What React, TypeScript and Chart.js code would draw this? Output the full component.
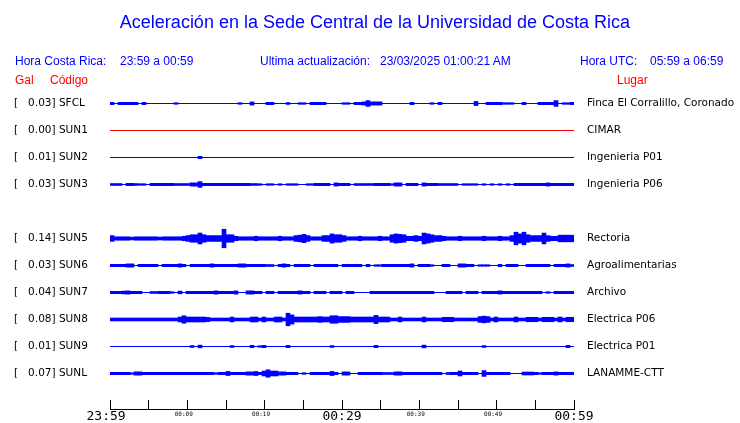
import React, { useEffect, useRef } from 'react';
import { Chart, registerables } from 'chart.js';

Chart.register(...registerables);

// ---------- data ----------
const TITLE = 'Aceleración en la Sede Central de la Universidad de Costa Rica';
const HEADER_LOCAL = ['Hora Costa Rica:', '23:59 a 00:59'];
const HEADER_UPDATE = ['Ultima actualización:', '23/03/2025 01:00:21 AM'];
const HEADER_UTC = ['Hora UTC:', '05:59 a 06:59'];
const COL_HEADERS = ['Gal', 'Código', 'Lugar'];

const CODES = ['SFCL', 'SUN1', 'SUN2', 'SUN3', 'SUN5', 'SUN6', 'SUN7', 'SUN8', 'SUN9', 'SUNL'];
const PEAK_GAL = [0.03, 0.0, 0.01, 0.03, 0.14, 0.03, 0.04, 0.08, 0.01, 0.07];
const PLACES = [
  'Finca El Corralillo, Coronado',
  'CIMAR',
  'Ingenieria P01',
  'Ingenieria P06',
  'Rectoria',
  'Agroalimentarias',
  'Archivo',
  'Electrica P06',
  'Electrica P01',
  'LANAMME-CTT',
];
// row slot of each station (slot 4 = SUN4, not shown)
const ROWS = [0, 1, 2, 3, 5, 6, 7, 8, 9, 10];
const TRACE_COLORS = ['#0000ff', '#ff0000', '#0000ff', '#0000ff', '#0000ff', '#0000ff', '#0000ff', '#0000ff', '#0000ff', '#0000ff'];

const TICK_MINUTES = [0, 5, 10, 15, 20, 25, 30, 35, 40, 45, 50, 55, 60];
const TICK_LABELS = ['23:59', '', '00:09', '', '00:19', '', '00:29', '', '00:39', '', '00:49', '', '00:59'];
const MAJOR_TICKS = [0, 6, 12];

// envelope amplitude of each trace, 116 bins over the hour
const ENV_SFCL = [
  1, 0, 1, 1, 1, 1, 1, 0, 1, 0,
  0, 0, 0, 0, 0, 0, 0.5, 0, 0, 0,
  0, 0, 0, 0, 0, 0, 0, 0, 0, 0,
  0, 0, 0.5, 0, 0, 1.5, 0, 0, 0, 1,
  1, 0, 0, 0, 0.7, 0, 0, 0.5, 0.5, 0,
  1, 1, 1, 1, 0, 0, 0, 0, 0.5, 0.5,
  0, 1, 1, 1.5, 3, 1.5, 1.5, 1.5, 0, 0,
  0, 0, 0, 0, 0, 1, 0, 0, 0, 0,
  0.5, 0, 1, 0, 0, 0, 0, 0, 0, 0,
  0, 2, 0, 0, 1, 1, 1, 1, 0.5, 0.5,
  0.5, 0, 0, 1, 0, 0, 0, 1, 1, 1,
  1, 3, 0, 0.5, 0.5, 1,
];
const ENV_SUN1 = [
  0, 0, 0, 0, 0, 0, 0, 0, 0, 0,
  0, 0, 0, 0, 0, 0, 0, 0, 0, 0,
  0, 0, 0, 0, 0, 0, 0, 0, 0, 0,
  0, 0, 0, 0, 0, 0, 0, 0, 0, 0,
  0, 0, 0, 0, 0, 0, 0, 0, 0, 0,
  0, 0, 0, 0, 0, 0, 0, 0, 0, 0,
  0, 0, 0, 0, 0, 0, 0, 0, 0, 0,
  0, 0, 0, 0, 0, 0, 0, 0, 0, 0,
  0, 0, 0, 0, 0, 0, 0, 0, 0, 0,
  0, 0, 0, 0, 0, 0, 0, 0, 0, 0,
  0, 0, 0, 0, 0, 0, 0, 0, 0, 0,
  0, 0, 0, 0, 0, 0,
];
const ENV_SUN2 = [
  0, 0, 0, 0, 0, 0, 0, 0, 0, 0,
  0, 0, 0, 0, 0, 0, 0, 0, 0, 0,
  0, 0, 1, 0, 0, 0, 0, 0, 0, 0,
  0, 0, 0, 0, 0, 0, 0, 0, 0, 0,
  0, 0, 0, 0, 0, 0, 0, 0, 0, 0,
  0, 0, 0, 0, 0, 0, 0, 0, 0, 0,
  0, 0, 0, 0, 0, 0, 0, 0, 0, 0,
  0, 0, 0, 0, 0, 0, 0, 0, 0, 0,
  0, 0, 0, 0, 0, 0, 0, 0, 0, 0,
  0, 0, 0, 0, 0, 0, 0, 0, 0, 0,
  0, 0, 0, 0, 0, 0, 0, 0, 0, 0,
  0, 0, 0, 0, 0, 0,
];
const ENV_SUN3 = [
  0.7, 0.7, 0.7, 0, 1, 1, 0.7, 0.5, 0.5, 0,
  1, 1, 1, 1, 1, 1, 0.7, 0.7, 0.7, 0.7,
  1.5, 1.5, 3, 1, 1, 1, 1, 1, 1, 1,
  1, 1, 1, 1, 1, 0.7, 0.7, 0.5, 0, 0.5,
  0.5, 0, 0.5, 0, 0.5, 0.5, 0.5, 0, 0, 0.5,
  0.5, 1, 1, 1, 1, 0, 1.5, 1, 1, 1,
  0, 0.7, 0.7, 0.7, 0.7, 0.7, 1, 1, 1, 1,
  0.5, 1.5, 1.5, 0, 1, 1, 1, 0, 1.5, 1,
  1, 1, 0.7, 0.7, 0.7, 0.7, 0.7, 0, 0.5, 0.5,
  0.5, 0.5, 0, 0.5, 0, 0.5, 0, 0.5, 0, 0.5,
  0, 1, 1, 1, 1, 1, 1, 1, 1, 1.5,
  1, 1, 1, 1, 1, 1,
];
const ENV_SUN5 = [
  3, 1.6, 1.6, 1.6, 1.6, 1.2, 1.6, 1.6, 1.6, 1.6,
  1.6, 1.6, 1.2, 1.6, 1.6, 1.6, 1.6, 1.6, 2.2, 3,
  4, 4, 6, 4, 3, 3, 3, 3, 10.5, 4,
  4, 2.2, 1.6, 1.6, 1.6, 1.6, 2.2, 1.6, 1.6, 1.6,
  1.6, 1.6, 2.2, 1.6, 1.6, 1.6, 3, 3.5, 4.5, 3,
  1.6, 1.6, 1.6, 3, 3, 5, 4, 4, 3, 1.6,
  1.6, 1.6, 2.2, 1.6, 1.6, 1.6, 1.6, 2.2, 1.6, 1.6,
  4, 5, 4.5, 4, 2.2, 2.2, 3, 2.2, 6, 5,
  4, 3, 3, 2.2, 1.6, 1.6, 1.6, 2.2, 1.6, 1.6,
  1.6, 1.6, 1.6, 2.2, 1.6, 1.6, 1.6, 2.2, 1.6, 1.6,
  3, 7, 5, 7, 4, 3, 3, 3, 6, 3,
  2.2, 2.2, 3.5, 3.5, 3.5, 3.5,
];
const ENV_SUN6 = [
  1, 1, 1, 1, 1.5, 1.5, 0, 1, 1, 1,
  1, 1, 0, 1, 1, 1, 1, 1.5, 1, 0,
  1, 1, 1, 1, 1, 1.5, 1, 1, 1, 1,
  1, 1, 1.5, 1.5, 1, 1, 1, 1, 1, 0.7,
  0.7, 0, 1, 1.5, 1, 0, 1, 1, 1, 1,
  0, 1, 1, 1, 1, 1, 1, 0, 1, 1,
  1, 1, 1, 0, 1, 0, 0.5, 0.5, 1, 1,
  1, 1, 1, 1, 1, 1.5, 0, 1, 1, 1,
  0.5, 0, 0, 1, 1, 0, 0, 1.5, 1.5, 1,
  1, 0, 0.5, 0.5, 0.5, 0, 0, 1, 0, 1,
  1, 1, 0, 0, 1, 1, 1, 1, 1, 1,
  0, 1, 1, 1, 1.5, 0.7,
];
const ENV_SUN7 = [
  1, 1, 1, 1.3, 1.5, 1, 1, 1, 0, 0,
  0.7, 0.7, 1, 1, 1, 0.5, 0, 1.2, 0, 1,
  1, 1, 1, 1, 1, 1, 1.5, 1, 1, 1,
  1, 1.5, 0, 0, 1.5, 1.5, 1, 1, 0, 1,
  1, 0, 1, 1, 1, 1, 1, 1.5, 1, 1,
  0, 1, 1, 1, 0, 1, 1, 1, 0, 1,
  1, 0, 0, 0, 0, 1, 1, 1, 1, 1,
  1, 1, 1, 1, 1, 1, 1, 1, 1, 1,
  1, 0, 0, 0, 1, 1, 1, 1, 0, 1,
  1, 1, 0, 1, 1, 1, 1, 1.5, 1, 1,
  1, 1, 1, 1, 1, 1, 1, 1, 0, 0.5,
  0, 1, 1, 1, 1, 1,
];
const ENV_SUN8 = [
  1.3, 1.3, 1.3, 1.3, 1.3, 1.3, 1.3, 1.3, 1.3, 1.3,
  1.3, 1.3, 1.3, 1.3, 1.3, 1.3, 1.3, 2.5, 4, 2.5,
  2.5, 2.5, 2.5, 2.5, 2, 1.3, 1.3, 1.3, 1.3, 1.3,
  2.5, 1.3, 1.3, 1.3, 1.3, 2.5, 2.5, 1.3, 2.5, 1.3,
  1.3, 2.5, 2.5, 1.3, 7, 5, 2.5, 2.5, 2.5, 2.5,
  2.5, 2.5, 3, 2.5, 2.5, 4, 4, 3, 3, 3,
  2.5, 2.5, 2.5, 2.5, 2.5, 2.5, 4.5, 2.5, 2.5, 2.5,
  1.3, 1.3, 2.5, 1.3, 1.3, 1.3, 1.3, 1.3, 2.5, 1.3,
  1.3, 1.3, 1.3, 2.2, 2.2, 2.2, 1.3, 1.3, 1.3, 1.3,
  1.3, 1.3, 3, 3.5, 3, 1.3, 2.5, 1.3, 1.3, 1.3,
  1.3, 2.5, 1.3, 1.3, 2.2, 2.2, 2.2, 1.3, 2.2, 2.2,
  2.2, 1.3, 2.5, 1.3, 2.2, 2.2,
];
const ENV_SUN9 = [
  0, 0, 0, 0, 0, 0, 0, 0, 0, 0,
  0, 0, 0, 0, 0, 0, 0, 0, 0, 0,
  0.7, 0, 1.2, 0, 0, 0, 0, 0, 0, 0,
  0.7, 0, 0, 0, 0, 1, 0, 0.5, 1, 0,
  0, 0, 0, 0, 1, 0, 0, 0, 0, 0,
  0, 0, 0, 0, 0, 0.7, 0, 0, 0, 0,
  0, 0, 0, 0, 0, 0, 1, 0, 0, 0,
  0, 0, 0, 0, 0, 0, 0, 0, 1.2, 0,
  0, 0, 0, 0, 0, 0, 0, 0, 0, 0,
  0, 0, 0, 0.7, 0, 0, 0, 0, 0, 0,
  0, 0, 0, 0, 0, 0, 0, 0, 0, 0,
  0, 0, 0, 0, 1, 0,
];
const ENV_SUNL = [
  1, 1, 1, 1, 1, 0.5, 1.5, 1.5, 1, 1,
  1, 1, 1, 1, 1, 1, 1, 1, 1, 1,
  1, 1, 1, 1, 1, 1, 0.5, 1, 1, 2,
  1, 1, 1, 1, 1.5, 1.5, 2, 1, 2.5, 4,
  2.5, 2.5, 1.5, 1.5, 1, 1, 1, 0, 0.5, 0,
  1, 1, 1, 1, 1, 2, 1, 0, 1.5, 1.5,
  0, 0, 1, 1, 1, 1, 1, 1, 0.7, 0.7,
  0.7, 1.5, 1.5, 1, 1, 1, 1, 1, 1, 1,
  1, 1, 1, 0, 0.7, 1, 1, 2.5, 1, 1,
  1, 1, 0, 3, 1, 1, 1, 1, 1, 1,
  0, 0, 0, 1.3, 1.3, 1.3, 1, 0.5, 1, 1,
  1, 1.5, 1, 1, 1, 1,
];
const ENVELOPES = [ENV_SFCL, ENV_SUN1, ENV_SUN2, ENV_SUN3, ENV_SUN5, ENV_SUN6, ENV_SUN7, ENV_SUN8, ENV_SUN9, ENV_SUNL];

// ---------- layout / style ----------
const W = 740;
const H = 423;
const PLOT_LEFT = 110;
const PLOT_RIGHT = 574;
const PLOT_TOP = 90;
const PLOT_BOTTOM = 409;
const FIRST_ROW_Y = 103.5;
const ROW_PX = 27;
const LEFT_PAD = 14;
const BLUE = '#0000ff';
const RED = '#ff0000';
const AMP_GAIN = 0.85;
const AMP_MIN = 0.35;

const Y_MIN = -(FIRST_ROW_Y - PLOT_TOP) / ROW_PX;
const Y_MAX = (PLOT_BOTTOM - FIRST_ROW_Y) / ROW_PX;

function leftLabel(k: number) {
  return `[   ${PEAK_GAL[k].toFixed(2)}] ${CODES[k]}`;
}

export default function App() {
  const ref = useRef<HTMLCanvasElement | null>(null);

  useEffect(() => {
    if (!ref.current) return;
    const binLabels = ENV_SFCL.map((_, i) => String(i));
    const half = (a: number) => (a * AMP_GAIN + AMP_MIN) / ROW_PX;
    const bars = ENVELOPES.map((env, k) => ({
      type: 'bar' as const,
      xAxisID: 'xb',
      yAxisID: 'y',
      data: env.map((a) => (a > 0 ? [ROWS[k] - half(a), ROWS[k] + half(a)] : null)),
      backgroundColor: TRACE_COLORS[k],
      borderWidth: 0,
      grouped: false,
      barPercentage: 1,
      categoryPercentage: 1,
      order: 2,
    }));
    const lines = ROWS.map((r, k) => ({
      type: 'line' as const,
      xAxisID: 'xt',
      yAxisID: 'y',
      data: [
        { x: TICK_MINUTES[0], y: r },
        { x: TICK_MINUTES[TICK_MINUTES.length - 1], y: r },
      ],
      borderColor: TRACE_COLORS[k],
      borderWidth: 1,
      pointRadius: 0,
      fill: false,
      order: 1,
    }));

    const rowTicks = (s: any) => {
      s.ticks = ROWS.map((v) => ({ value: v }));
    };

    const chart = new Chart(ref.current, {
      type: 'bar',
      data: { labels: binLabels, datasets: [...bars, ...lines] as any },
      options: {
        animation: false,
        responsive: false,
        devicePixelRatio: 1,
        events: [],
        layout: { padding: { left: LEFT_PAD, top: PLOT_TOP, right: 0, bottom: 0 } },
        plugins: { legend: { display: false }, tooltip: { enabled: false }, title: { display: false } },
        scales: {
          xb: {
            type: 'category',
            display: false,
            offset: true,
            grid: { display: false },
          },
          xt: {
            type: 'linear',
            position: 'bottom',
            offset: false,
            min: TICK_MINUTES[0],
            max: TICK_MINUTES[TICK_MINUTES.length - 1],
            afterBuildTicks: (s: any) => {
              s.ticks = TICK_MINUTES.map((v) => ({ value: v }));
            },
            afterFit: (s: any) => {
              s.height = H - PLOT_BOTTOM;
            },
            grid: { offset: false, drawOnChartArea: false, drawTicks: true, tickLength: -9, color: '#000', lineWidth: 1 },
            border: { display: true, color: '#000', width: 1 },
            ticks: {
              autoSkip: false,
              maxRotation: 0,
              minRotation: 0,
              padding: 9,
              color: '#000',
              callback: (_v: any, i: number) => {
                const t = TICK_LABELS[i] || '';
                if (!t) return '';
                if (i === 0) return t + ' ';
                return MAJOR_TICKS.includes(i) ? t : t + '  ';
              },
              font: (ctx: any) =>
                MAJOR_TICKS.includes(ctx.index)
                  ? { family: 'DejaVu Sans Mono', size: 13, lineHeight: 1.2 }
                  : { family: 'DejaVu Sans Mono', size: 6, lineHeight: '10px' },
            } as any,
          },
          y: {
            type: 'linear',
            position: 'left',
            reverse: true,
            min: Y_MIN,
            max: Y_MAX,
            afterBuildTicks: rowTicks,
            afterFit: (s: any) => {
              s.width = PLOT_LEFT - LEFT_PAD;
            },
            grid: { display: false, drawTicks: false },
            border: { display: false },
            ticks: {
              autoSkip: false,
              crossAlign: 'far',
              padding: 0,
              color: '#000',
              font: { family: 'DejaVu Sans', size: 10.5 },
              callback: (v: any) => {
                const k = ROWS.indexOf(Number(v));
                return k >= 0 ? leftLabel(k) : '';
              },
            },
          },
          yR: {
            type: 'linear',
            position: 'right',
            reverse: true,
            min: Y_MIN,
            max: Y_MAX,
            afterBuildTicks: rowTicks,
            afterFit: (s: any) => {
              s.width = W - PLOT_RIGHT;
            },
            grid: { display: false, drawTicks: true, tickLength: 13 },
            border: { display: false },
            ticks: {
              autoSkip: false,
              crossAlign: 'near',
              padding: 0,
              color: '#000',
              font: { family: 'DejaVu Sans', size: 10.5 },
              callback: (v: any) => {
                const k = ROWS.indexOf(Number(v));
                return k >= 0 ? PLACES[k] : '';
              },
            },
          },
        },
      } as any,
    });
    return () => chart.destroy();
  }, []);

  const sans = '"Liberation Sans", Arial, sans-serif';
  const txt = (left: number, top: number, color: string, size: number, s: string) => (
    <div
      style={{
        position: 'absolute',
        left,
        top,
        color,
        fontFamily: sans,
        fontSize: size,
        lineHeight: '14px',
        whiteSpace: 'pre',
      }}
    >
      {s}
    </div>
  );

  return (
    <div style={{ position: 'fixed', left: 0, top: 0, width: W, height: H, background: '#fff', overflow: 'hidden' }}>
      <canvas ref={ref} width={W} height={H} style={{ position: 'absolute', left: 0, top: 0, width: W, height: H }} />
      <div
        style={{
          position: 'absolute',
          left: 0,
          width: 750,
          top: 12,
          textAlign: 'center',
          color: BLUE,
          fontFamily: sans,
          fontSize: 18,
          lineHeight: '20px',
          whiteSpace: 'pre',
        }}
      >
        {TITLE}
      </div>
      {txt(15, 54, BLUE, 12, HEADER_LOCAL[0])}
      {txt(120, 54, BLUE, 12, HEADER_LOCAL[1])}
      {txt(260, 54, BLUE, 12, HEADER_UPDATE[0])}
      {txt(380, 54, BLUE, 12, HEADER_UPDATE[1])}
      {txt(580, 54, BLUE, 12, HEADER_UTC[0])}
      {txt(650, 54, BLUE, 12, HEADER_UTC[1])}
      {txt(15, 73, RED, 12, COL_HEADERS[0])}
      {txt(50, 73, RED, 12, COL_HEADERS[1])}
      {txt(617, 73, RED, 12, COL_HEADERS[2])}
    </div>
  );
}
